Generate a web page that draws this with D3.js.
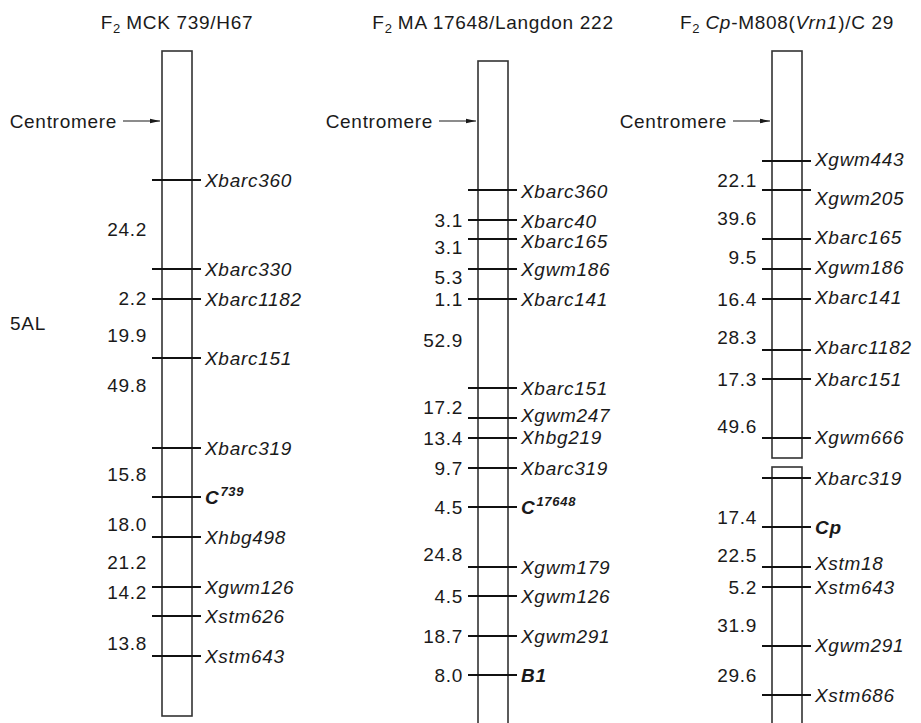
<!DOCTYPE html>
<html><head><meta charset="utf-8">
<script src="https://cdn.jsdelivr.net/npm/d3@7"></script>
<style>
body{margin:0;background:#fff;}
svg text{font-family:"Liberation Sans",Arial,Helvetica,sans-serif;font-size:19px;letter-spacing:0.7px;fill:#1a1a1a;}
</style></head>
<body><svg id="chart" width="921" height="723"></svg>
<script>
// ---- data (positions in map display units, 0 = centromere) ----
const chromosomeArm = "5AL";

const map1Title = [["F",""],["2","sub"],[" MCK 739/H67",""]];
const map1Markers = ["Xbarc360","Xbarc330","Xbarc1182","Xbarc151","Xbarc319","C|739","Xhbg498","Xgwm126","Xstm626","Xstm643"];
const map1MarkerPos = [59,148,178,237,327,376,416,466,495,535];
const map1LabelPos = [59,148,178,237,327,376,416,466,495,535];
const map1Dist = ["24.2","2.2","19.9","49.8","15.8","18.0","21.2","14.2","13.8"];
const map1DistPos = [108,177,214,264,353,403,441,471,522];
const map1Segments = [[-70,595]];

const map2Title = [["F",""],["2","sub"],[" MA 17648/Langdon 222",""]];
const map2Markers = ["Xbarc360","Xbarc40","Xbarc165","Xgwm186","Xbarc141","Xbarc151","Xgwm247","Xhbg219","Xbarc319","C|17648","Xgwm179","Xgwm126","Xgwm291","B1"];
const map2MarkerPos = [69,99,118,148,178,267,297,317,347,386,446,475,515,554];
const map2LabelPos = [70,100,120,148,178,267,294,316,347,386,446,475,515,554];
const map2Dist = ["3.1","3.1","5.3","1.1","52.9","17.2","13.4","9.7","4.5","24.8","4.5","18.7","8.0"];
const map2DistPos = [99,126,156,178,219,286,317,347,386,433,475,515,554];
const map2Segments = [[-60,615]];

const map3Title = [["F",""],["2","sub"],[" ",""],["Cp","it"],["-M808(",""],["Vrn1","it"],[")/C 29",""]];
const map3Markers = ["Xgwm443","Xgwm205","Xbarc165","Xgwm186","Xbarc141","Xbarc1182","Xbarc151","Xgwm666","Xbarc319","Cp|","Xstm18","Xstm643","Xgwm291","Xstm686"];
const map3MarkerPos = [40,69,118,148,178,229,258,317,357,406,446,466,525,574];
const map3LabelPos = [38,77,116,146,176,226,258,316,357,406,442,466,524,574];
const map3Dist = ["22.1","39.6","9.5","16.4","28.3","17.3","49.6","17.4","22.5","5.2","31.9","29.6"];
const map3DistPos = [59,97,136,178,216,258,305,396,434,466,504,554];
const map3Segments = [[-70,337],[346,615]];

// ---- layout ----
const svg = d3.select("#chart");
const y = d3.scaleLinear().domain([0,600]).range([121,721]);
const x = d3.scalePoint().domain(["m1","m2","m3"]).range([177,787]);
const colOffset = {m1:0, m2:11, m3:0};
const rectW = 30;

const maps = [
  {key:"m1", title:map1Title, markers:map1Markers, mpos:map1MarkerPos, lpos:map1LabelPos, dist:map1Dist, dpos:map1DistPos, segs:map1Segments},
  {key:"m2", title:map2Title, markers:map2Markers, mpos:map2MarkerPos, lpos:map2LabelPos, dist:map2Dist, dpos:map2DistPos, segs:map2Segments},
  {key:"m3", title:map3Title, markers:map3Markers, mpos:map3MarkerPos, lpos:map3LabelPos, dist:map3Dist, dpos:map3DistPos, segs:map3Segments}
];

svg.append("defs").append("marker").attr("id","arr").attr("viewBox","0 0 10 6")
  .attr("refX",10).attr("refY",3).attr("markerWidth",10).attr("markerHeight",6)
  .attr("markerUnits","userSpaceOnUse").attr("orient","auto")
  .append("path").attr("d","M0,0.7L10,3L0,5.3Z").attr("fill","#1a1a1a");

svg.append("text").attr("x",10).attr("y",y(202)).attr("dy","0.36em").text(chromosomeArm);

maps.forEach(m=>{
  const cx = x(m.key) + colOffset[m.key];
  const left = cx - rectW/2, right = cx + rectW/2;
  const g = svg.append("g");
  // title
  const t = g.append("text").attr("x",cx).attr("y",29).attr("text-anchor","middle").attr("letter-spacing","0.4px");
  let prevSub = false;
  m.title.forEach(([s,k])=>{
    const ts = t.append("tspan").text(s);
    if(k==="sub"){ ts.attr("font-size","13px").attr("dy",4).attr("letter-spacing","0px"); }
    else {
      if(k==="it") ts.attr("font-style","italic");
      if(prevSub) ts.attr("dy",-4);
    }
    prevSub = (k==="sub");
  });
  // chromosome segments
  m.segs.forEach(([a,b])=>{
    g.append("rect").attr("x",left).attr("y",y(a)).attr("width",rectW).attr("height",y(b)-y(a))
      .attr("fill","none").attr("stroke","#333").attr("stroke-width",1.6);
  });
  // centromere
  g.append("line").attr("x1",left-39).attr("x2",left-2).attr("y1",y(0)).attr("y2",y(0))
    .attr("stroke","#1a1a1a").attr("stroke-width",1.2).attr("marker-end","url(#arr)");
  g.append("text").attr("x",left-45).attr("y",y(0)).attr("dy","0.36em").attr("text-anchor","end").text("Centromere");
  // marker ticks
  g.selectAll("line.tick").data(m.mpos).join("line").attr("class","tick")
    .attr("x1",left-10).attr("x2",right+9).attr("y1",d=>y(d)).attr("y2",d=>y(d))
    .attr("stroke","#111").attr("stroke-width",2);
  // marker labels
  m.markers.forEach((name,i)=>{
    const lt = g.append("text").attr("x",right+13).attr("y",y(m.lpos[i])).attr("dy","0.36em").attr("font-style","italic");
    if(name.includes("|")){
      const [base,sup] = name.split("|");
      lt.attr("font-weight","bold").attr("letter-spacing","0.3px");
      lt.append("tspan").text(base);
      if(sup) lt.append("tspan").attr("font-size","13px").attr("dx",1).attr("dy",-8).text(sup);
    } else if(name==="B1"){
      lt.attr("font-weight","bold").text(name);
    } else lt.text(name);
  });
  // distances
  g.selectAll("text.dist").data(m.dist).join("text").attr("class","dist")
    .attr("x",left-15).attr("y",(d,i)=>y(m.dpos[i])).attr("dy","0.36em").attr("text-anchor","end")
    .text(d=>d);
});
</script></body></html>
